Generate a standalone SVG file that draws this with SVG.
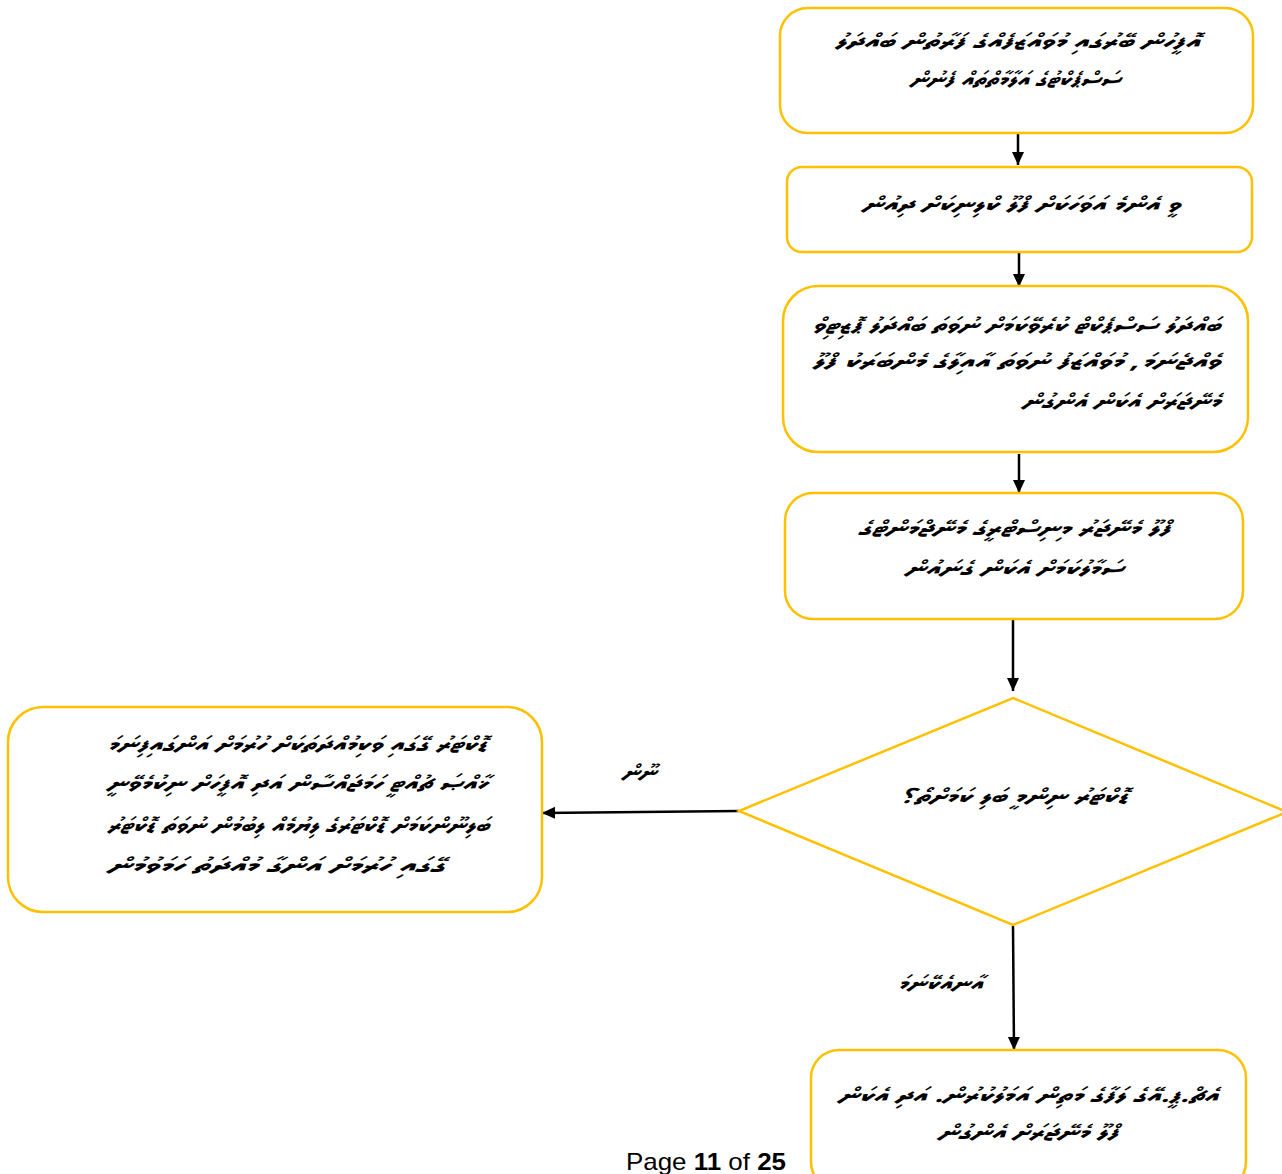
<svg xmlns="http://www.w3.org/2000/svg" width="1282" height="1174" viewBox="0 0 1282 1174">
<style>
.box{fill:#fff;stroke:#FFC000;stroke-width:2.5}
.t{font-family:"Faruma","MV Faruma","Noto Sans Thaana","DejaVu Sans","Noto Sans",sans-serif;font-size:21px;font-style:italic;font-weight:bold;fill:#000}
.c{stroke:#000;stroke-width:2.5;fill:none}
.pg{font-family:"Liberation Sans",Arial,sans-serif;font-size:24px;fill:#000}
</style>
<defs>
<marker id="ah" markerUnits="userSpaceOnUse" markerWidth="14" markerHeight="14" refX="13" refY="7" orient="auto">
<path d="M0,1 L13,7 L0,13 z" fill="#000"/>
</marker>
</defs>
<rect width="1282" height="1174" fill="#fff"/>
<g id="connectors">
<line class="c" x1="1018" y1="134" x2="1018" y2="165" marker-end="url(#ah)"/>
<line class="c" x1="1019" y1="253" x2="1019" y2="287" marker-end="url(#ah)"/>
<line class="c" x1="1019" y1="454" x2="1019" y2="493" marker-end="url(#ah)"/>
<line class="c" x1="1013" y1="620" x2="1013" y2="691" marker-end="url(#ah)"/>
<line class="c" x1="739" y1="811" x2="542" y2="813" marker-end="url(#ah)"/>
<line class="c" x1="1013" y1="926" x2="1014" y2="1050" marker-end="url(#ah)"/>
<text class="t" x="639" y="779" text-anchor="middle" textLength="34" lengthAdjust="spacingAndGlyphs">ނޫން</text>
<text class="t" x="940" y="990" text-anchor="middle" textLength="85" lengthAdjust="spacingAndGlyphs">އާނއެކޭނަމަ</text>
</g>
<g id="n1">
<rect class="box" x="780" y="8" width="473" height="125" rx="28"/>
<text class="t" x="1017" y="48" text-anchor="middle" textLength="365" lengthAdjust="spacingAndGlyphs">އޮފީހުން ބޭރުގައި މުވައްޒަފެއްގެ ފަރާތުން ބައްދަލު</text>
<text class="t" x="1015" y="86" text-anchor="middle" textLength="210" lengthAdjust="spacingAndGlyphs">ސަސްޕެކްޓުގެ އަލާމާތްތައް ފެނުން</text>
</g>
<g id="n2">
<rect class="box" x="787" y="167" width="465" height="85" rx="15"/>
<text class="t" x="1021" y="211" text-anchor="middle" textLength="318" lengthAdjust="spacingAndGlyphs">ވީ އެންމެ އަވަހަކަށް ފްލޫ ކްލިނިކަށް ދިއުން</text>
</g>
<g id="n3">
<rect class="box" x="783" y="286" width="465" height="166" rx="35"/>
<text class="t" x="1016" y="332" text-anchor="middle" textLength="408" lengthAdjust="spacingAndGlyphs">ބައްދަލު ސަސްޕެކްޓް ކުރެވޭކަމަށް ނުވަތަ ބައްދަލު ޕޮޒިޓިވް</text>
<text class="t" x="1016" y="368" text-anchor="middle" textLength="408" lengthAdjust="spacingAndGlyphs">ވެއްޖެނަމަ، މުވައްޒަފު ނުވަތަ އާއިލާގެ މެންބަރަކު ފްލޫ</text>
<text class="t" x="1121" y="408" text-anchor="middle" textLength="198" lengthAdjust="spacingAndGlyphs">މެނޭޖަރަށް އެކަން އެންގުން</text>
</g>
<g id="n4">
<rect class="box" x="785" y="493" width="458" height="126" rx="28"/>
<text class="t" x="1014" y="535" text-anchor="middle" textLength="312" lengthAdjust="spacingAndGlyphs">ފްލޫ މެނޭޖަރު މިނިސްޓްރީގެ މެނޭޖްމަންޓްގެ</text>
<text class="t" x="1014" y="575" text-anchor="middle" textLength="218" lengthAdjust="spacingAndGlyphs">ސަމާލުކަމަށް އެކަން ގެނައުން</text>
</g>
<g id="n5">
<polygon class="box" points="1013,698 1287,812 1013,925 739,811"/>
<text class="t" x="1014" y="803" text-anchor="middle" textLength="228" lengthAdjust="spacingAndGlyphs">ޑޮކްޓަރު ނިންމީ ބަލި ކަމަށްތޯ؟</text>
</g>
<g id="n6">
<rect class="box" x="8" y="707" width="534" height="205" rx="35"/>
<text class="t" x="297" y="751" text-anchor="middle" textLength="380" lengthAdjust="spacingAndGlyphs">ޑޮކްޓަރު ގޭގައި ވަކިމުއްދަތަކަށް ހުރުމަށް އަންގައިފިނަމަ</text>
<text class="t" x="297" y="790" text-anchor="middle" textLength="380" lengthAdjust="spacingAndGlyphs">ޚާއްޞަ ޗުއްޓީ ހަމަޖައްސާން އަދި އޮފީހަށް ނިކުމެވޭނީ</text>
<text class="t" x="298" y="832" text-anchor="middle" textLength="382" lengthAdjust="spacingAndGlyphs">ބަލިނޫންކަމަށް ޑޮކްޓަރުގެ ލިޔުމެއް ލިބުމުން ނުވަތަ ޑޮކްޓަރު</text>
<text class="t" x="276" y="872" text-anchor="middle" textLength="337" lengthAdjust="spacingAndGlyphs">ގޭގައި ހުރުމަށް އަންގާ މުއްދަތު ހަމަވުމުން</text>
</g>
<g id="n7">
<rect class="box" x="811" y="1050" width="435" height="140" rx="28"/>
<text class="t" x="1028" y="1102" text-anchor="middle" textLength="380" lengthAdjust="spacingAndGlyphs">އެޗް.ޕީ.އޭގެ ލަފާގެ މަތިން އަމަލުކުރުން. އަދި އެކަން</text>
<text class="t" x="1028" y="1139" text-anchor="middle" textLength="180" lengthAdjust="spacingAndGlyphs">ފްލޫ މެނޭޖަރަށް އެންގުން</text>
</g>
<text class="pg" x="706" y="1170" text-anchor="middle" textLength="160" lengthAdjust="spacingAndGlyphs">Page <tspan font-weight="bold">11</tspan> of <tspan font-weight="bold">25</tspan></text>
</svg>
